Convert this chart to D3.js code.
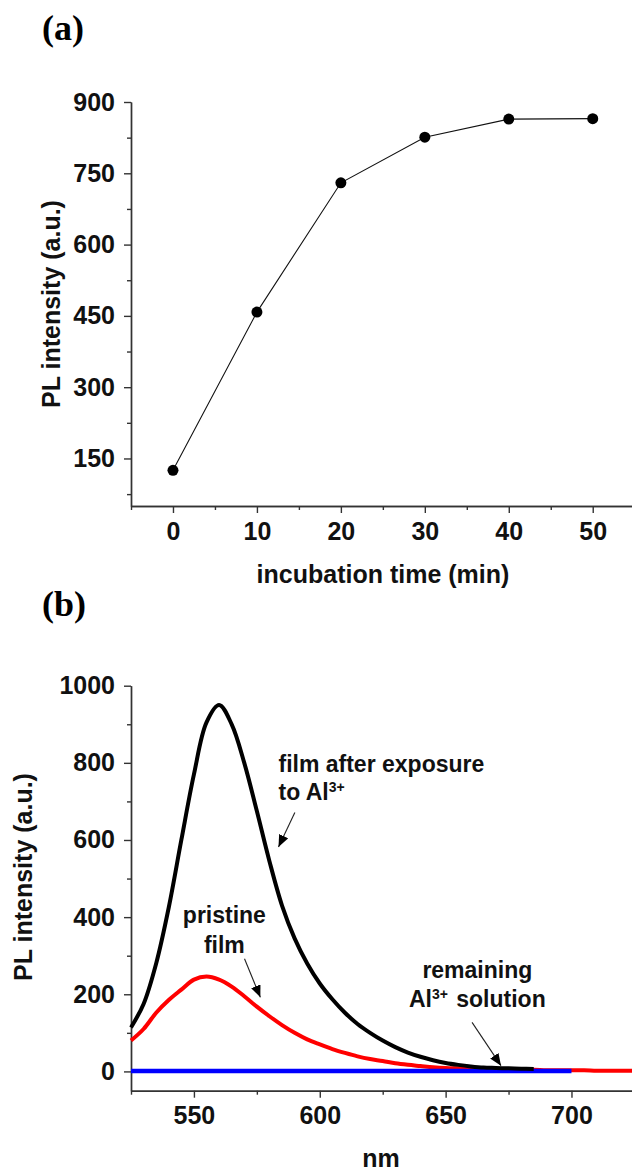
<!DOCTYPE html>
<html>
<head>
<meta charset="utf-8">
<script src="https://cdn.jsdelivr.net/npm/d3@7"></script>
<style>
  body { margin: 0; background: #fff; }
  svg { display: block; }
  .tick text { font-family: "Liberation Sans", Arial, sans-serif; font-weight: bold; font-size: 25px; fill: #111; }
  .domain, .tick line { stroke: #333; stroke-width: 1.4px; }
  .lbl { font-family: "Liberation Sans", Arial, sans-serif; font-weight: bold; font-size: 25px; fill: #111; }
  .ann { font-family: "Liberation Sans", Arial, sans-serif; font-weight: bold; font-size: 23px; fill: #111; }
  .panel { font-family: "Liberation Serif", "Times New Roman", serif; font-weight: bold; font-size: 36px; fill: #000; }
</style>
</head>
<body>
<div id="chart"></div>
<script>
// Panel (a): PL intensity vs incubation time
const incubationTime = [0, 10, 20, 30, 40, 50];
const plIntensityA = [125, 458, 730, 826, 864, 865];
const xTicksA = [0, 10, 20, 30, 40, 50];
const yTicksA = [150, 300, 450, 600, 750, 900];

// Panel (b): emission spectra
const wavelengths = [525, 530, 535, 540, 545, 550, 555, 560, 565, 570, 575, 580, 585, 590, 595, 600,
  605, 610, 615, 620, 625, 630, 635, 640, 645, 650, 655, 660, 665, 670, 675, 680, 685, 690, 695, 700,
  705, 710, 715, 720, 725];
// film after exposure to Al3+ (ends near 685 nm)
const exposedFilm = [114, 175, 280, 425, 600, 770, 905, 950, 900, 800, 675, 545, 430, 345, 280, 228,
  187, 152, 123, 100, 80, 63, 49, 38, 29, 22, 17, 13, 10, 9, 8, 7, 6, null, null, null,
  null, null, null, null, null];
const pristineFilm = [80, 110, 152, 185, 212, 238, 246, 238, 220, 195, 168, 143, 120, 100, 83, 70,
  58, 48, 39, 32, 27, 21, 17, 14, 11, 9, 8, 7, 6, 5, 5, 4, 4, 3, 3, 3,
  3, 2, 2, 2, 2];
// remaining Al3+ solution (ends at 700 nm)
const solution = [1, 1, 1, 1, 1, 1, 1, 1, 1, 1, 1, 1, 1, 1, 1, 1,
  1, 1, 1, 1, 1, 1, 1, 1, 1, 1, 1, 1, 1, 1, 1, 1, 1, 1, 1, 1,
  null, null, null, null, null];
const xTicksB = [550, 600, 650, 700];
const yTicksB = [0, 200, 400, 600, 800, 1000];

const W = 632, H = 1173;
const svg = d3.select('#chart').append('svg')
  .attr('width', W).attr('height', H);

// arrow head
svg.append('defs').append('marker')
  .attr('id', 'head')
  .attr('viewBox', '0 0 12 10')
  .attr('refX', 12).attr('refY', 5)
  .attr('markerWidth', 12).attr('markerHeight', 10)
  .attr('markerUnits', 'userSpaceOnUse')
  .attr('orient', 'auto')
  .append('path').attr('d', 'M0,0 L12,5 L0,10 Z').attr('fill', '#000');

function drawAxes(g, x, y, xMajor, xMinor, yMajor, yMinor) {
  const xAxisPos = y.range()[0];
  const xLeft = x.range()[0];
  g.append('g').attr('transform', `translate(0,${xAxisPos})`)
    .call(d3.axisBottom(x).tickValues(xMinor).tickSize(4).tickSizeOuter(0).tickFormat(''));
  g.append('g').attr('transform', `translate(0,${xAxisPos})`)
    .call(d3.axisBottom(x).tickValues(xMajor).tickSize(7).tickSizeOuter(0).tickPadding(9).tickFormat(d3.format('d')));
  g.append('g').attr('transform', `translate(${xLeft},0)`)
    .call(d3.axisLeft(y).tickValues(yMinor).tickSize(4).tickSizeOuter(0).tickFormat(''));
  g.append('g').attr('transform', `translate(${xLeft},0)`)
    .call(d3.axisLeft(y).tickValues(yMajor).tickSize(7).tickSizeOuter(0).tickPadding(9).tickFormat(d3.format('d')));
}

// ---------- Panel (a) ----------
const xA = d3.scaleLinear().domain([-5, 55]).range([131, 634.7]);
const yA = d3.scaleLinear().domain([50, 900]).range([506, 102]);
const gA = svg.append('g');

drawAxes(gA, xA, yA, xTicksA, d3.range(-5, 56, 10), yTicksA, d3.range(75, 900, 150));

const ptsA = incubationTime.map((t, i) => [t, plIntensityA[i]]);
gA.append('path')
  .datum(ptsA)
  .attr('fill', 'none').attr('stroke', '#111').attr('stroke-width', 1.1)
  .attr('d', d3.line().x(d => xA(d[0])).y(d => yA(d[1])));
gA.selectAll('.dot')
  .data(ptsA)
  .enter().append('circle')
  .attr('class', 'dot')
  .attr('cx', d => xA(d[0])).attr('cy', d => yA(d[1]))
  .attr('r', 5.5).attr('fill', '#000');

gA.append('text').attr('class', 'panel').attr('x', 42).attr('y', 40).text('(a)');
gA.append('text').attr('class', 'lbl')
  .attr('transform', 'rotate(-90)')
  .attr('x', -304).attr('y', 60)
  .attr('text-anchor', 'middle')
  .text('PL intensity (a.u.)');
gA.append('text').attr('class', 'lbl')
  .attr('x', 383).attr('y', 583)
  .attr('text-anchor', 'middle')
  .text('incubation time (min)');

// ---------- Panel (b) ----------
const xB = d3.scaleLinear().domain([525, 725]).range([131, 634.4]);
const yB = d3.scaleLinear().domain([-50, 1000]).range([1090.7, 685.7]);
const gB = svg.append('g');

drawAxes(gB, xB, yB, xTicksB, [525, 575, 625, 675, 725], yTicksB, [100, 300, 500, 700, 900]);

const lineB = d3.line()
  .defined(d => d[1] != null)
  .x(d => xB(d[0])).y(d => yB(d[1]))
  .curve(d3.curveCatmullRom.alpha(0.5));

const series = [
  { values: pristineFilm, color: '#ff0000', width: 4 },
  { values: solution, color: '#0000ff', width: 4.5 },
  { values: exposedFilm, color: '#000000', width: 4 }
];
series.forEach(s => {
  gB.append('path')
    .datum(wavelengths.map((w, i) => [w, s.values[i]]))
    .attr('fill', 'none')
    .attr('stroke', s.color)
    .attr('stroke-width', s.width)
    .attr('d', lineB);
});

gB.append('text').attr('class', 'panel').attr('x', 42).attr('y', 616).text('(b)');
gB.append('text').attr('class', 'lbl')
  .attr('transform', 'rotate(-90)')
  .attr('x', -877).attr('y', 32)
  .attr('text-anchor', 'middle')
  .text('PL intensity (a.u.)');
gB.append('text').attr('class', 'lbl')
  .attr('x', 381).attr('y', 1167)
  .attr('text-anchor', 'middle')
  .text('nm');

// annotations (positions in data units)
function supText(g, nm, val, anchor, parts) {
  const t = g.append('text').attr('class', 'ann')
    .attr('x', xB(nm)).attr('y', yB(val)).attr('text-anchor', anchor);
  parts.forEach(p => {
    if (p.sup) {
      t.append('tspan').attr('dy', -8).style('font-size', '14px').text(p.text);
      t.append('tspan').attr('dy', 8).text('\u200A');
    } else {
      t.append('tspan').text(p.text);
    }
  });
}
supText(gB, 583.6, 776, 'start', [{ text: 'film after exposure' }]);
supText(gB, 583.6, 703, 'start', [{ text: 'to Al' }, { text: '3+', sup: true }]);
supText(gB, 562.1, 384, 'middle', [{ text: 'pristine' }]);
supText(gB, 562.1, 308, 'middle', [{ text: 'film' }]);
supText(gB, 662.6, 241, 'middle', [{ text: 'remaining' }]);
supText(gB, 662.6, 166, 'middle', [{ text: 'Al' }, { text: '3+', sup: true }, { text: ' solution' }]);

const arrows = [
  { from: [590.1, 671], to: [583.6, 582] },
  { from: [570.1, 292], to: [576.4, 192] },
  { from: [660.5, 127], to: [672, 15] }
];
gB.selectAll('.arrow')
  .data(arrows)
  .enter().append('line')
  .attr('class', 'arrow')
  .attr('x1', d => xB(d.from[0])).attr('y1', d => yB(d.from[1]))
  .attr('x2', d => xB(d.to[0])).attr('y2', d => yB(d.to[1]))
  .attr('stroke', '#222').attr('stroke-width', 1.1)
  .attr('marker-end', 'url(#head)');
</script>
</body>
</html>
